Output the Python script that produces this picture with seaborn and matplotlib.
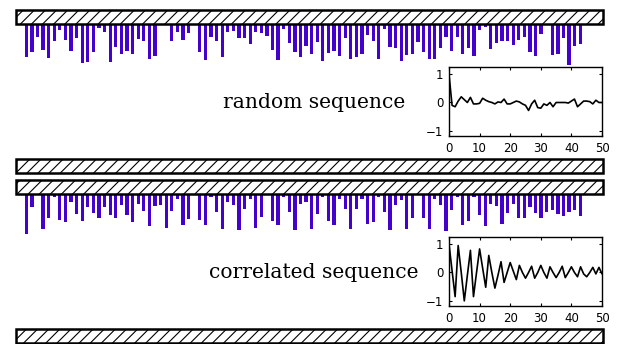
import numpy as np
import pandas as pd
import matplotlib
matplotlib.use("Agg")
import matplotlib.pyplot as plt
from matplotlib.patches import Rectangle
import seaborn as sns

# ---------------- data ----------------
random_seq = [0.83,0.71,0.33,0.65,0.86,0.43,0.15,0.41,0.68,0.36,
              0.98,0.96,0.71,0.11,0.21,0.96,0.58,0.76,0.68,0.76,
              0.38,0.43,0.88,0.81,0.03,0.03,0.43,0.21,0.41,0.23,
              0.03,0.71,0.91,0.33,0.43,0.83,0.21,0.18,0.36,0.36,
              0.51,0.21,0.23,0.31,0.66,0.91,0.13,0.48,0.71,0.83,
              0.56,0.76,0.46,0.93,0.73,0.68,0.81,0.36,0.88,0.83,
              0.76,0.28,0.43,0.88,0.13,0.58,0.61,0.93,0.78,0.76,
              0.46,0.71,0.88,0.88,0.61,0.33,0.68,0.33,0.76,0.61,
              0.81,0.16,0.08,0.63,0.48,0.43,0.43,0.53,0.41,0.33,
              0.71,0.81,0.26,0.01,0.78,0.76,0.36,1.03,0.56,0.51]

correlated_seq = [1.01,0.32,0.03,0.87,0.59,0.07,0.64,0.69,0.20,0.49,
                  0.67,0.32,0.47,0.59,0.32,0.52,0.59,0.27,0.52,0.69,
                  0.24,0.42,0.79,0.29,0.27,0.84,0.42,0.12,0.77,0.62,
                  0.03,0.64,0.77,0.08,0.44,0.87,0.19,0.27,0.89,0.37,
                  0.12,0.84,0.57,0.03,0.67,0.77,0.07,0.44,0.89,0.24,
                  0.19,0.87,0.49,0.07,0.67,0.77,0.12,0.37,0.87,0.37,
                  0.12,0.74,0.69,0.07,0.44,0.89,0.27,0.14,0.87,0.59,
                  0.01,0.59,0.87,0.12,0.27,0.92,0.39,0.07,0.77,0.67,
                  0.07,0.52,0.79,0.24,0.29,0.74,0.47,0.24,0.59,0.59,
                  0.32,0.47,0.59,0.44,0.39,0.49,0.54,0.44,0.39,0.54]

lags = list(range(51))
acf_random = [1.0,-0.1,-0.15,0.05,0.2,0.1,0.0,0.18,-0.05,-0.05,
              -0.03,0.15,0.08,0.03,0.0,-0.05,0.02,0.0,0.12,-0.05,
              -0.05,0.0,0.05,0.02,-0.05,-0.1,-0.28,-0.05,0.08,-0.18,
              -0.2,-0.05,-0.1,0.0,-0.15,0.0,0.0,0.0,0.0,-0.02,
              0.05,0.12,-0.15,-0.05,0.05,0.05,0.03,-0.05,0.08,0.0,0.0]
acf_correlated = [1.0,0.07,-0.85,0.95,0.0,-1.0,-0.1,0.78,-0.85,0.0,
                  0.83,0.15,-0.52,0.6,0.0,-0.55,-0.1,0.38,-0.35,0.0,
                  0.35,0.05,-0.25,0.25,0.0,-0.2,0.0,0.22,-0.2,0.0,
                  0.25,0.0,-0.2,0.2,0.0,-0.18,0.0,0.22,-0.18,0.0,
                  0.2,0.0,-0.15,0.2,-0.05,-0.15,0.0,0.18,-0.05,0.18,-0.05]

labels = ["random sequence", "correlated sequence"]
xticks_acf = [0, 10, 20, 30, 40, 50]
yticks_acf = [-1, 0, 1]
yticklabels_acf = ["\u22121", "0", "1"]

# ---------------- layout ----------------
W, H = 619, 344
sns.set_theme(style="white")
plt.rcParams['font.family'] = ['DejaVu Sans']
plt.rcParams['hatch.linewidth'] = 0.8
fig = plt.figure(figsize=(W / 100, H / 100), dpi=100)
fig.patch.set_facecolor("white")

def px_axes(x0, y0, x1, y1):
    return fig.add_axes([x0 / W, 1 - y1 / H, (x1 - x0) / W, (y1 - y0) / H])

def hatch_bar(y0, y1):
    ax = px_axes(16, y0, 603, y1)
    ax.set_xlim(0, 1)
    ax.set_ylim(0, 1)
    ax.axis("off")
    ax.add_patch(Rectangle((0, 0), 1, 1, transform=ax.transAxes,
                           facecolor="white", edgecolor="black",
                           hatch="///", linewidth=1.8, clip_on=False))
    return ax

purple = "#4400CC"

panels = [
    dict(seq=random_seq, acf=acf_random, top=10, bot=159, inset=(449, 67, 602, 136), ty=103),
    dict(seq=correlated_seq, acf=acf_correlated, top=180, bot=329, inset=(449, 237, 602, 306), ty=273),
]

for p, lab in zip(panels, labels):
    top = p["top"]
    axb = px_axes(16, top + 14, 603, top + 64)
    df = pd.DataFrame({"i": np.arange(len(p["seq"])), "v": p["seq"]})
    sns.barplot(data=df, x="i", y="v", color=purple, width=0.58,
                saturation=1, ax=axb, linewidth=0)
    axb.set_xlim(-1.84, 103.06)
    axb.set_ylim(1.25, 0)
    axb.axis("off")

    hatch_bar(top, top + 14)
    hatch_bar(p["bot"], p["bot"] + 14)

    fig.text(314 / W, 1 - p["ty"] / H, lab, ha="center", va="center",
             fontsize=14.6, family="DejaVu Serif", color="black")

    x0, y0, x1, y1 = p["inset"]
    axi = px_axes(x0, y0, x1, y1)
    sns.lineplot(x=lags, y=p["acf"], color="black", linewidth=1.2, ax=axi)
    axi.set_xlim(0, 50)
    axi.set_ylim(-1.18, 1.25)
    axi.set_xticks(xticks_acf)
    axi.set_yticks(yticks_acf)
    axi.set_yticklabels(yticklabels_acf)
    axi.tick_params(direction="in", length=2, width=0.8, labelsize=8.5,
                    pad=4, top=True, right=True, bottom=True, left=True, colors="black")
    for s in axi.spines.values():
        s.set_visible(True)
        s.set_color("black")
        s.set_linewidth(1.0)
    axi.set_xlabel("")
    axi.set_ylabel("")
    axi.set_facecolor("white")

fig.savefig("out.png", dpi=100, facecolor="white")
